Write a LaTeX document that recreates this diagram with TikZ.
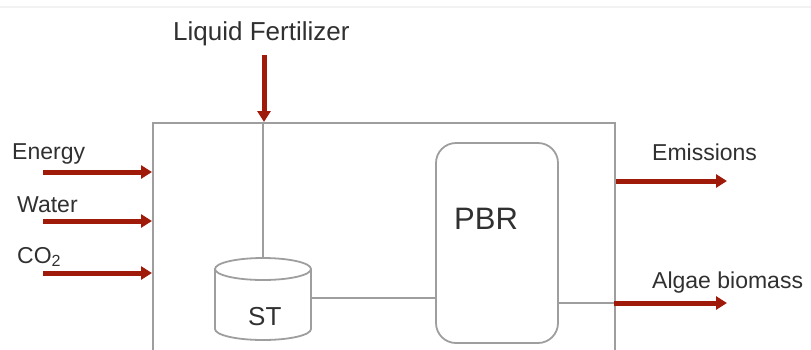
\documentclass[tikz,border=0pt]{standalone}
\usepackage{fontspec}
\setmainfont{Liberation Sans}
\usetikzlibrary{arrows.meta}
\definecolor{flowred}{RGB}{160,26,10}
\definecolor{wallgray}{RGB}{158,158,158}
\definecolor{labelgray}{RGB}{48,48,48}
\tikzset{
  flow/.style={draw=flowred, line width=5pt, -{Triangle[length=11pt,width=13pt]}},
  wall/.style={draw=wallgray, line width=1.8pt},
  lbl/.style={inner sep=0pt, anchor=base west, text=labelgray, font=\fontsize{23}{27}\selectfont},
}
\begin{document}
\begin{tikzpicture}[x=1pt,y=-1pt]
\useasboundingbox (0,0) rectangle (811,349);
% faint rule along the top
\draw[draw={rgb,255:red,242;green,242;blue,242}, line width=1.5pt] (0,7) -- (811,7);

% system boundary (runs past the lower edge)
\node[wall, rectangle, minimum width=462pt, minimum height=260pt, anchor=north west, inner sep=0pt] (sys) at (152,122) {};

% photobioreactor
\node[wall, rectangle, rounded corners=20pt, minimum width=122pt, minimum height=200pt, inner sep=0pt] (pbr) at (497,243) {};
\node[lbl, font=\fontsize{31}{36}\selectfont] (pbrlbl) at (454,229) {PBR};

% storage tank (cylinder)
\coordinate (sttop) at (263,258);
\coordinate (stR) at (311,298);
\draw[wall] (215,269) -- (215,329) arc (180:0:48 and 11) -- (311,269);
\draw[wall] (263,269) ellipse (48 and 11);
\node[lbl, font=\fontsize{26}{30}\selectfont] (st) at (248,325) {ST};

% internal connections
\draw[wall] (sttop |- sys.north) -- (sttop);
\draw[wall] (stR) -- (stR -| pbr.west);
\coordinate (outB) at (614,303);
\draw[wall] (outB -| pbr.east) -- (outB);

% inputs
\node[lbl, font=\fontsize{26}{30}\selectfont] (lf) at (173,40) {Liquid Fertilizer};
\coordinate (lfIn) at (264,55);
\draw[flow] (lfIn) -- (lfIn |- sys.north);

\node[lbl] (energy) at (12,159) {Energy};
\node[lbl] (water) at (17,212) {Water};
\node[lbl] (co2) at (17,263) {CO\textsubscript{2}};
\coordinate (eIn) at (43,172);
\coordinate (wIn) at (43,221);
\coordinate (cIn) at (43,273);
\draw[flow] (eIn) -- (eIn -| sys.west);
\draw[flow] (wIn) -- (wIn -| sys.west);
\draw[flow] (cIn) -- (cIn -| sys.west);

% outputs
\node[lbl] (emis) at (652,160) {Emissions};
\node[lbl] (algae) at (652,288) {Algae biomass};
\coordinate (emOut) at (727,181);
\coordinate (alOut) at (727,303);
\draw[flow] (emOut -| sys.east) -- (emOut);
\draw[flow] (outB) -- (alOut);
\end{tikzpicture}
\end{document}
